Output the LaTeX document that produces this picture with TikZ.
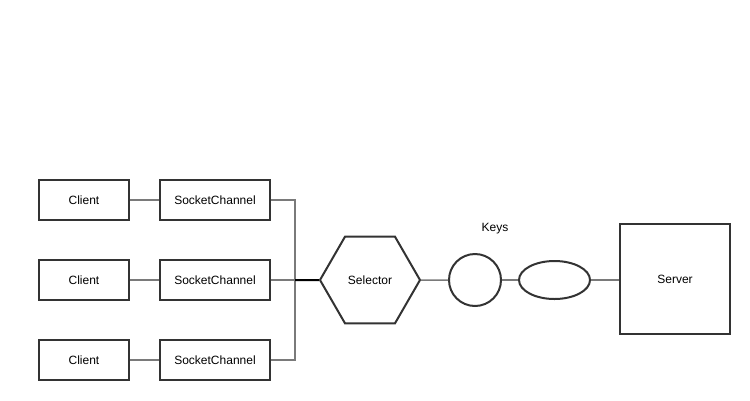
\documentclass[tikz,border=0pt]{standalone}
\usepackage{fontspec}
\setmainfont{Liberation Sans}
\usetikzlibrary{shapes.geometric}
\definecolor{edge}{HTML}{333333}
\definecolor{conn}{HTML}{7A7A7A}
\begin{document}
\begin{tikzpicture}[x=1pt,y=-1pt,
  every node/.style={font=\fontsize{12}{14}\selectfont, inner sep=0pt},
  box/.style={draw=edge, line width=2pt, minimum width=#1, rectangle},
  conline/.style={draw=conn, line width=1.5pt},
  ]
\useasboundingbox (0,0) rectangle (750,400);
\foreach \i/\y in {1/200,2/280,3/360}{
  \node[box=90pt, minimum height=40pt] (cl\i) at (84,\y) {Client};
  \node[box=110pt, minimum height=40pt] (sc\i) at (215,\y) {SocketChannel};
  \draw[conline] (cl\i) -- (sc\i);
}
\node[draw=edge, line width=2pt, regular polygon, regular polygon sides=6, minimum size=100pt] (sel) at (370,280) {Selector};
\node[draw=edge, line width=2pt, circle, minimum size=52pt] (key1) at (475,280) {};
\node[draw=edge, line width=2pt, ellipse, minimum width=71pt, minimum height=38pt] (key2) at (554.5,280) {};
\node (keys) at (495,229) {Keys};
\node[box=110pt, minimum height=110pt] (srv) at (675,279) {Server};
\coordinate (j) at (295,280);
\draw[conline] (sc1.east) -| (j);
\draw[conline] (sc3.east) -| (j);
\draw[conline] (sc2.east) -- (j);
\draw[draw=black, line width=2pt] (j) -- (sel.west);
\draw[conline] (sel.east) -- (key1.west);
\draw[conline] (key1.east) -- (key2.west);
\draw[conline] (key2.east) -- (key2.east -| srv.west);
\end{tikzpicture}
\end{document}
